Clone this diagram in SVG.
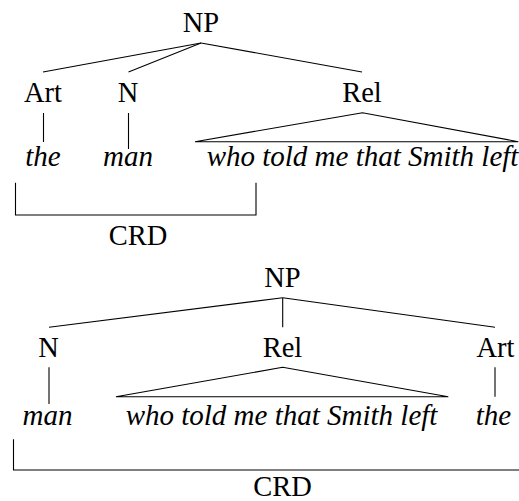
<svg xmlns="http://www.w3.org/2000/svg" width="519" height="501" viewBox="0 0 519 501">
<style>
  text { font-family: 'Liberation Serif', 'Times New Roman', serif; font-size: 28.5px; fill: #000; text-anchor: middle; }
  .wd { font-style: italic; font-size: 29px; }
  .edge { stroke: #000; stroke-width: 1.1; fill: none; }
</style>
<rect width="519" height="501" fill="#fff"/>
<g id="tree1">
  <g id="t1-NP"><text x="201" y="32">NP</text></g>
  <g id="t1-Art"><text x="43" y="102">Art</text></g>
  <g id="t1-N"><text x="128" y="102">N</text></g>
  <g id="t1-Rel"><text x="362" y="102">Rel</text></g>
  <g id="t1-the"><text class="wd" x="43" y="166">the</text></g>
  <g id="t1-man"><text class="wd" x="128" y="166">man</text></g>
  <g id="t1-who"><text class="wd" x="362.5" y="166">who told me that Smith left</text></g>
  <g id="t1-CRD"><text x="138" y="245">CRD</text></g>
  <g id="t1-connectors">
    <line class="edge" x1="201" y1="43" x2="43" y2="72"/>
    <line class="edge" x1="201" y1="43" x2="128.5" y2="72"/>
    <line class="edge" x1="201" y1="43" x2="362" y2="72"/>
    <line class="edge" x1="43.5" y1="113" x2="43.5" y2="142"/>
    <line class="edge" x1="128.5" y1="113" x2="128.5" y2="149"/>
    <polygon class="edge" points="362.5,112.7 195,141.7 518.3,141.7"/>
    <polyline class="edge" points="15.5,182.7 15.5,215 256,215 256,182.7"/>
  </g>
</g>
<g id="tree2">
  <g id="t2-NP"><text x="282.5" y="287">NP</text></g>
  <g id="t2-N"><text x="48.5" y="357">N</text></g>
  <g id="t2-Rel"><text x="282.5" y="357">Rel</text></g>
  <g id="t2-Art"><text x="495.5" y="357">Art</text></g>
  <g id="t2-man"><text class="wd" x="47.5" y="425">man</text></g>
  <g id="t2-who"><text class="wd" x="281.5" y="425">who told me that Smith left</text></g>
  <g id="t2-the"><text class="wd" x="493.5" y="425">the</text></g>
  <g id="t2-CRD"><text x="282.5" y="496">CRD</text></g>
  <g id="t2-connectors">
    <line class="edge" x1="282.7" y1="297.7" x2="49" y2="327.3"/>
    <line class="edge" x1="282.7" y1="297.7" x2="282.7" y2="327.3"/>
    <line class="edge" x1="282.7" y1="297.7" x2="495" y2="327.3"/>
    <line class="edge" x1="49" y1="367.3" x2="49" y2="404"/>
    <line class="edge" x1="495" y1="367.3" x2="495" y2="396.7"/>
    <polygon class="edge" points="282.7,367.3 116,396.7 448.3,396.7"/>
    <polyline class="edge" points="13.5,439.3 13.5,470 520,470"/>
  </g>
</g>
</svg>
